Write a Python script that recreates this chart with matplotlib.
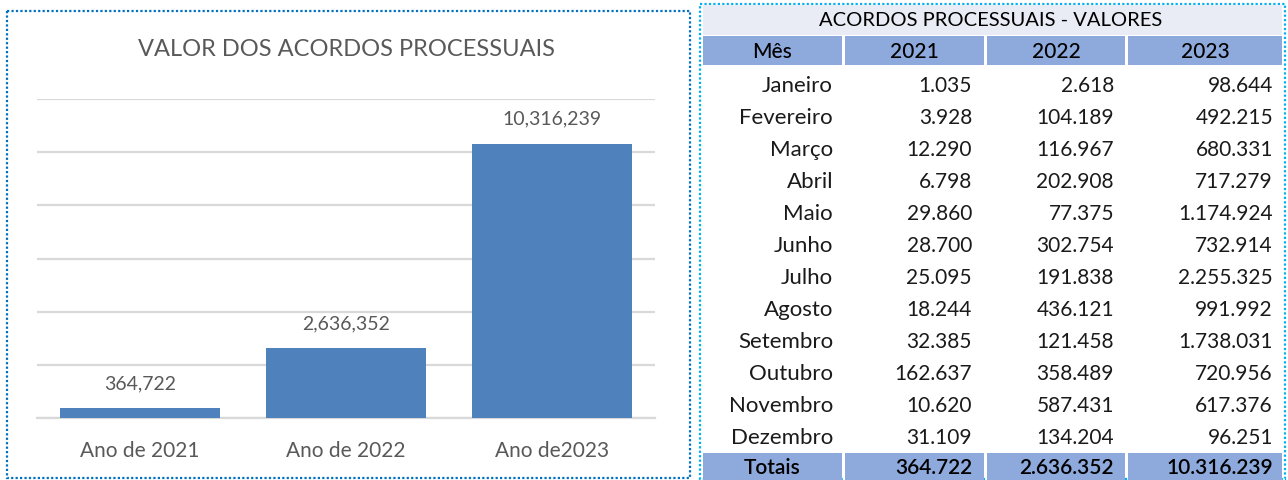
import matplotlib
matplotlib.use("Agg")
import matplotlib.pyplot as plt
from matplotlib.patches import Rectangle

plt.rcParams['font.family'] = ['Lato', 'DejaVu Sans']

# chart data
anos = ["Ano de 2021", "Ano de 2022", "Ano de2023"]
totais = [364722, 2636352, 10316239]

# table data
meses = ["Janeiro", "Fevereiro", "Março", "Abril", "Maio", "Junho", "Julho",
         "Agosto", "Setembro", "Outubro", "Novembro", "Dezembro"]
v2021 = [1035, 3928, 12290, 6798, 29860, 28700, 25095, 18244, 32385, 162637, 10620, 31109]
v2022 = [2618, 104189, 116967, 202908, 77375, 302754, 191838, 436121, 121458, 358489, 587431, 134204]
v2023 = [98644, 492215, 680331, 717279, 1174924, 732914, 2255325, 991992, 1738031, 720956, 617376, 96251]
cabecalho = ["Mês", "2021", "2022", "2023"]


def br(v):
    return f"{v:,}".replace(",", ".")


W, H = 1288, 480
fig = plt.figure(figsize=(W / 100, H / 100), dpi=100)

# overlay in pixel coords for borders + table
ov = fig.add_axes([0, 0, 1, 1])
ov.set_xlim(0, W)
ov.set_ylim(H, 0)
ov.axis('off')

# chart box
ov.add_patch(Rectangle((7, 11), 683, 467, fill=False, ec='#0070C0', lw=1.6,
                       ls=(0, (1, 1))))
# table box
ov.add_patch(Rectangle((700, 4), 585, 475, fill=False, ec='#00B0F0', lw=1.6,
                       ls=(0, (1, 1))))

# --- bar chart ---
cinza = '#595959'
ax = fig.add_axes([37 / W, 1 - 418 / H, (655 - 37) / W, (418 - 99) / H])
x = range(len(anos))
bars = ax.bar(x, totais, width=0.777, color='#4F81BD', zorder=3)
ax.set_xlim(-0.5, 2.5)
ax.set_ylim(0, 12_000_000)
ax.set_yticks(range(0, 12_000_001, 2_000_000))
ax.yaxis.grid(True, color='#D9D9D9', lw=1.6)
ax.set_axisbelow(True)
for s in ['left', 'right', 'top']:
    ax.spines[s].set_visible(False)
ax.spines['bottom'].set_color('#D9D9D9')
ax.spines['bottom'].set_linewidth(1.6)
ax.tick_params(axis='y', left=False, labelleft=False)
ax.tick_params(axis='x', length=0, pad=16.5)
ax.set_xticks(list(x))
ax.set_xticklabels(anos, fontsize=15, color=cinza)
for b, v in zip(bars, totais):
    ax.annotate(f"{v:,}", (b.get_x() + b.get_width() / 2, v),
                xytext=(0, 11.5), textcoords='offset points', ha='center',
                va='bottom', fontsize=14, color=cinza)
fig.text(346 / W, 1 - 50 / H, "VALOR DOS ACORDOS PROCESSUAIS", ha='center',
         va='center', fontsize=17, color=cinza)

# --- table ---
cols = [(703, 842), (845, 984), (987, 1125), (1128, 1282)]
azul = '#8EA9DB'
ov.add_patch(Rectangle((703, 5), 1282 - 703, 30, color='#E9EBF5', lw=0))
ov.text(991, 21, "ACORDOS PROCESSUAIS - VALORES", ha='center', va='center',
        fontsize=14.5, color='black')
for (x0, x1), h in zip(cols, cabecalho):
    ov.add_patch(Rectangle((x0, 36), x1 - x0, 29, color=azul, lw=0))
    ov.text((x0 + x1) / 2, 51.5, h, ha='center', va='center', fontsize=15,
            color='black', fontweight='medium')
    ov.add_patch(Rectangle((x0, 453), x1 - x0, 27, color=azul, lw=0))

right_pad = [9, 12, 11, 9]
for i, m in enumerate(meses):
    y = 85.5 + 32 * i
    row = [m, br(v2021[i]), br(v2022[i]), br(v2023[i])]
    for j, ((x0, x1), p, t) in enumerate(zip(cols, right_pad, row)):
        ov.text(x1 - p, y, t, ha='right', va='center',
                fontsize=16 if j == 0 else 15, color='#1a1a1a')

tot_row = ["Totais"] + [br(v) for v in totais]
for j, ((x0, x1), t) in enumerate(zip(cols, tot_row)):
    if j == 0:
        ov.text((x0 + x1) / 2, 468, t, ha='center', va='center', fontsize=15,
                color='black', fontweight='semibold')
    else:
        ov.text(x1 - right_pad[j], 468, t, ha='right', va='center',
                fontsize=15, color='black', fontweight='semibold')

fig.savefig("out.png", dpi=100, facecolor='white')
